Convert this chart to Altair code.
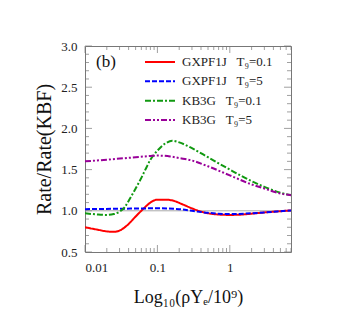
import altair as alt
import pandas as pd

SP = "\u00a0\u00a0\u00a0"
names = ["GXPF1J" + SP + "T₉=0.1", "GXPF1J" + SP + "T₉=5", "KB3G" + SP + "T₉=0.1", "KB3G" + SP + "T₉=5"]
colors = ["#ff0000", "#0000ff", "#119911", "#990099"]
dashes = [[1, 0], [5, 2], [6, 2, 2, 2], [6, 2, 2, 2, 2, 2]]

red_x = [0.01, 0.015, 0.02, 0.025, 0.03, 0.04, 0.05, 0.065, 0.08, 0.1, 0.13, 0.17, 0.22, 0.3, 0.4, 0.5, 0.7, 1.0, 1.5, 2, 3, 5, 7]
red_y = [0.80, 0.77, 0.75, 0.745, 0.76, 0.84, 0.93, 1.03, 1.10, 1.135, 1.135, 1.12, 1.08, 1.03, 0.99, 0.97, 0.955, 0.95, 0.955, 0.965, 0.98, 0.995, 1.005]

blue_x = [0.01, 0.03, 0.1, 0.2, 0.3, 0.5, 0.7, 1, 2, 3, 5, 7]
blue_y = [1.02, 1.025, 1.03, 1.02, 1.0, 0.975, 0.965, 0.96, 0.97, 0.98, 0.995, 1.005]

green_x = [0.01, 0.015, 0.02, 0.025, 0.03, 0.035, 0.04, 0.05, 0.06, 0.07, 0.08, 0.1, 0.13, 0.16, 0.2, 0.3, 0.5, 1, 2, 3, 5, 7]
green_y = [0.97, 0.955, 0.95, 0.96, 0.99, 1.04, 1.12, 1.27, 1.40, 1.52, 1.62, 1.73, 1.82, 1.85, 1.83, 1.76, 1.65, 1.50, 1.36, 1.29, 1.22, 1.19]

purple_x = [0.01, 0.02, 0.05, 0.08, 0.1, 0.15, 0.2, 0.3, 0.5, 1, 2, 3, 5, 7]
purple_y = [1.60, 1.62, 1.65, 1.665, 1.67, 1.66, 1.64, 1.61, 1.54, 1.43, 1.32, 1.27, 1.21, 1.19]

x_major = [0.01, 0.1, 1]
x_minor = [0.02, 0.03, 0.04, 0.05, 0.06, 0.07, 0.08, 0.09,
           0.2, 0.3, 0.4, 0.5, 0.6, 0.7, 0.8, 0.9,
           2, 3, 4, 5, 6, 7]
y_major = [0.5, 1.0, 1.5, 2.0, 2.5, 3.0]
y_minor = [0.6, 0.7, 0.8, 0.9, 1.1, 1.2, 1.3, 1.4, 1.6, 1.7, 1.8, 1.9,
           2.1, 2.2, 2.3, 2.4, 2.6, 2.7, 2.8, 2.9]

rows = []
for n, xs, ys in zip(names, [red_x, blue_x, green_x, purple_x], [red_y, blue_y, green_y, purple_y]):
    for xv, yv in zip(xs, ys):
        rows.append({"series": n, "x": xv, "y": yv})
df = pd.DataFrame(rows)

W, H = 206, 206
FONT = "Liberation Serif"
xscale = alt.Scale(type="log", domain=[0.01, 7])
yscale = alt.Scale(domain=[0.5, 3.0])
cscale = alt.Scale(domain=names, range=colors)
dscale = alt.Scale(domain=names, range=dashes)

xaxis = alt.Axis(values=x_major, format="~g", ticks=False, domain=False, grid=False,
                 labelPadding=9, labelFontSize=13, labelFont=FONT, labelColor="#222",
                 title="Log₁₀(ρYₑ/10⁹)", titleFont=FONT, titleFontSize=18, titleFontWeight="normal",
                 titlePadding=14, titleColor="#111")
yaxis = alt.Axis(values=y_major, format=".1f", ticks=False, domain=False, grid=False,
                 labelPadding=8, labelFontSize=13, labelFont=FONT, labelColor="#222",
                 title="Rate/Rate(KBF)", titleFont=FONT, titleFontSize=20, titleFontWeight="normal",
                 titlePadding=6, titleColor="#111")

ref = alt.Chart(pd.DataFrame({"y": [1.0]})).mark_rule(color="#aaaaaa", strokeWidth=1).encode(
    y=alt.Y("y:Q", scale=yscale, axis=None)
)

lines = alt.Chart(df).mark_line(strokeWidth=2, interpolate="monotone", clip=True).encode(
    x=alt.X("x:Q", scale=xscale, axis=xaxis),
    y=alt.Y("y:Q", scale=yscale, axis=yaxis),
    color=alt.Color("series:N", scale=cscale, legend=None),
    strokeDash=alt.StrokeDash("series:N", scale=dscale, legend=None),
    order=alt.Order("x:Q"),
)

# legend built from the series names through a point scale
leg_df = pd.DataFrame({"series": names})
leg_y = alt.Y("series:N", scale=alt.Scale(type="point", domain=names, range=[16, 74], padding=0), axis=None)
leg_rule = alt.Chart(leg_df).mark_rule(strokeWidth=2).encode(
    x=alt.value(60), x2=alt.value(90), y=leg_y,
    color=alt.Color("series:N", scale=cscale, legend=None),
    strokeDash=alt.StrokeDash("series:N", scale=dscale, legend=None),
)
leg_text = alt.Chart(leg_df).mark_text(
    font=FONT, fontSize=13, align="left", baseline="middle", color="#222"
).encode(x=alt.value(97), y=leg_y, text="series:N")

tick_col = "#777777"
yma = pd.DataFrame({"v": y_major})
ymi = pd.DataFrame({"v": y_minor})
xma = pd.DataFrame({"v": x_major})
xmi = pd.DataFrame({"v": x_minor})

def yticks(d, size):
    left = alt.Chart(d).mark_tick(color=tick_col, size=size, thickness=1).encode(
        y=alt.Y("v:Q", scale=yscale, axis=None), x=alt.value(size / 2))
    right = alt.Chart(d).mark_tick(color=tick_col, size=size, thickness=1).encode(
        y=alt.Y("v:Q", scale=yscale, axis=None), x=alt.value(W - size / 2))
    return [left, right]

def xticks(d, size):
    bot = alt.Chart(d).mark_tick(color=tick_col, size=size, thickness=1).encode(
        x=alt.X("v:Q", scale=xscale), y=alt.value(H - size / 2))
    top = alt.Chart(d).mark_tick(color=tick_col, size=size, thickness=1).encode(
        x=alt.X("v:Q", scale=xscale), y=alt.value(size / 2))
    return [bot, top]

label_b = alt.Chart(pd.DataFrame({"t": ["(b)"]})).mark_text(
    font=FONT, fontSize=17, align="left", baseline="middle", color="#111"
).encode(text="t:N", x=alt.value(11), y=alt.value(16))

layers = ([ref] + yticks(yma, 7) + yticks(ymi, 4) + xticks(xma, 7) + xticks(xmi, 4)
          + [lines, leg_rule, leg_text, label_b])

chart = alt.layer(*layers).resolve_scale(y="independent").properties(
    width=W, height=H,
    padding={"left": 77, "top": 38, "right": 30, "bottom": 70},
    autosize=alt.AutoSizeParams(type="none"),
).configure_view(stroke="#777777", strokeWidth=1)

chart.save("out.html", embed_options={"renderer": "svg", "actions": False})
